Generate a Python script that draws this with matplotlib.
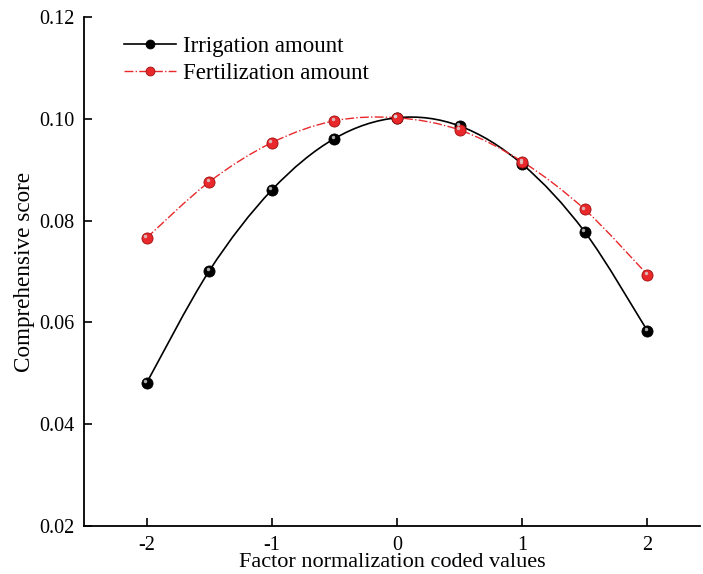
import numpy as np
import matplotlib.pyplot as plt
from matplotlib.path import Path
from matplotlib.patches import PathPatch

plt.rcParams['font.family'] = ['Liberation Serif', 'DejaVu Serif']

coded = [-2, -1.5, -1, -0.5, 0, 0.5, 1, 1.5, 2]
irrigation = [0.0481, 0.0701, 0.0860, 0.0961, 0.1002, 0.0986, 0.0911, 0.0778, 0.0584]
fertilization = [0.0766, 0.0876, 0.0953, 0.0996, 0.1002, 0.0978, 0.0916, 0.0822, 0.0694]

x_ticks = [-2, -1, 0, 1, 2]
y_ticks = [0.02, 0.04, 0.06, 0.08, 0.10, 0.12]


def smooth_path(xs, ys):
    # catmull-rom through the points, drawn as cubic bezier segments
    pts = np.column_stack([xs, ys]).astype(float)
    verts = [pts[0]]
    codes = [Path.MOVETO]
    n = len(pts)
    for i in range(n - 1):
        p0 = pts[max(i - 1, 0)]
        p1 = pts[i]
        p2 = pts[i + 1]
        p3 = pts[min(i + 2, n - 1)]
        c1 = p1 + (p2 - p0) / 6
        c2 = p2 - (p3 - p1) / 6
        verts += [c1, c2, p2]
        codes += [Path.CURVE4] * 3
    return Path(verts, codes)


def draw_series(ax, xs, ys, color, dark, ls, lw, label):
    ax.add_patch(PathPatch(smooth_path(xs, ys), fill=False, edgecolor=color,
                           linestyle=ls, linewidth=lw, zorder=2))
    ax.plot(xs, ys, linestyle='none', marker='o', markersize=8,
            markerfacecolor=color, markeredgecolor=dark, markeredgewidth=0.6, zorder=3)
    # little highlight to mimic the shaded balls
    ax.plot(np.array(xs) - 0.012, np.array(ys) + 0.00035, linestyle='none', marker='o',
            markersize=2.5, markerfacecolor='#d8d8d8', markeredgewidth=0, alpha=0.8, zorder=4)
    ax.plot([], [], color=color, linestyle=ls, linewidth=lw, marker='o', markersize=8,
            markerfacecolor=color, markeredgecolor=dark, markeredgewidth=0.6, label=label)


fig = plt.figure(figsize=(7.03, 5.74), dpi=100)
ax = fig.add_axes([0.1195, 0.0836, 0.876, 0.8868])

draw_series(ax, coded, irrigation, 'black', 'black', '-', 1.2, 'Irrigation amount')
draw_series(ax, coded, fertilization, '#e8282a', '#a01010', '-.', 1.0, 'Fertilization amount')

ax.set_xlim(-2.5, 2.42)
ax.set_ylim(0.02, 0.12)
ax.set_xticks(x_ticks)
ax.set_xticklabels(['-2', '-1', '0', '1', '2'])
ax.set_yticks(y_ticks)
ax.set_yticklabels(['%.2f' % v for v in y_ticks])
ax.spines['top'].set_visible(False)
ax.spines['right'].set_visible(False)
for s in ('left', 'bottom'):
    ax.spines[s].set_linewidth(1.3)
ax.tick_params(direction='in', length=5.5, width=1.2, labelsize=14.5)
ax.tick_params(axis='x', pad=7)
ax.tick_params(axis='y', pad=7)

ax.set_xlabel('Factor normalization coded values', fontsize=16, labelpad=-1)
ax.set_ylabel('Comprehensive score', fontsize=16.7, labelpad=3)

ax.legend(loc='upper left', bbox_to_anchor=(0.047, 0.985), frameon=False, fontsize=16.5,
          handlelength=2.27, handletextpad=0.3, labelspacing=0.25, borderpad=0,
          markerscale=0.8)

fig.savefig('out.png', dpi=100)
